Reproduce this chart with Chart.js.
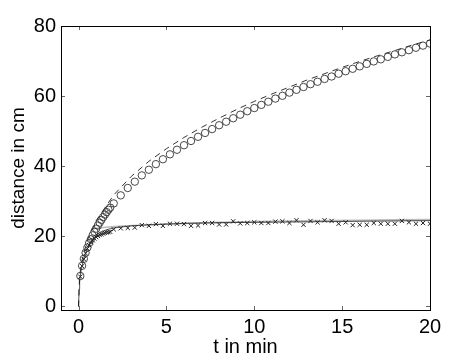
<!DOCTYPE html>
<html>
<head>
<meta charset="utf-8">
<script src="https://cdn.jsdelivr.net/npm/chart.js@4.4.1/dist/chart.umd.min.js"></script>
<style>
html,body{margin:0;padding:0;background:#fff;}
canvas{display:block;}
</style>
</head>
<body>
<canvas id="c" width="474" height="356"></canvas>
<script>
// ---- data ----
const tEarly = [0.1,0.2,0.3,0.4,0.5,0.6,0.7,0.8,0.9,1.0,1.1,1.2,1.3,1.4,1.5,1.6,1.7,1.8];
const tLate = [2.0,2.4,2.8,3.2,3.6,4.0,4.4,4.8,5.2,5.6,6.0,6.4,6.8,7.2,7.6,8.0,8.4,8.8,9.2,9.6,
  10.0,10.4,10.8,11.2,11.6,12.0,12.4,12.8,13.2,13.6,14.0,14.4,14.8,15.2,15.6,16.0,16.4,16.8,17.2,17.6,
  18.0,18.4,18.8,19.2,19.6,20.0];
const circEarly = [8.7,11.6,13.6,15.3,16.8,18.1,19.2,20.3,21.3,22.2,23.1,23.9,24.7,25.5,26.2,26.9,27.6,28.2];
const circLate = [29.4,31.7,33.8,35.6,37.4,39.0,40.6,42.0,43.4,44.7,46.0,47.2,48.4,49.5,50.6,51.7,52.7,53.7,54.7,55.7,
  56.6,57.5,58.4,59.3,60.1,61.0,61.8,62.6,63.4,64.1,64.9,65.6,66.4,67.1,67.8,68.5,69.2,69.9,70.5,71.2,
  71.9,72.5,73.1,73.8,74.4,75.0];
const crossEarly = [8.5,11.5,13.5,15.2,16.5,17.5,18.3,18.9,19.4,19.8,20.1,20.4,20.6,20.8,21.0,21.1,21.2,21.3];
const crossLate = [22.0,22.3,22.4,22.5,23.2,23.0,23.5,23.0,23.6,23.6,23.5,23.0,23.1,23.8,23.8,23.4,23.4,24.3,23.7,23.8,
  24.0,23.8,23.8,24.2,24.3,23.8,24.6,23.3,24.4,24.0,24.6,24.4,23.6,24.0,23.2,23.3,23.3,23.8,23.6,23.6,
  23.6,24.4,24.0,23.6,23.8,23.6];
const tDash = [0,0.05,0.1,0.2,0.5,1,2,3,4,5,6,7,8,9,10,11,12,13,14,15,16,17,18,19,20];
const dashFit = [0,7.7,10.1,13.3,18.9,24.5,31.8,37.1,41.4,45.0,48.2,51.1,53.7,56.2,58.5,60.6,62.6,64.6,66.4,68.2,69.9,71.5,73.0,74.6,76.0];
const tSolid = [0,0.03,0.06,0.1,0.15,0.2,0.3,0.4,0.5,0.6,0.8,1.0,1.3,1.6,2,3,4,6,8,10,12,14,16,18,20];
const solidFit = [0,5,7,8.7,10.3,11.6,13.6,15.2,16.5,17.6,19.2,20.3,21.3,21.9,22.4,23.0,23.3,23.7,23.9,24.0,24.1,24.2,24.3,24.4,24.5];
const tGrey = [0.7,1,2,4,6,8,10,12,14,16,18,20];
const greyFit = [22.0,22.3,22.8,23.3,23.7,24.0,24.2,24.4,24.5,24.6,24.7,24.8];
const xTicks = [0,5,10,15,20];
const yTicks = [0,20,40,60,80];

const pts = (xs, ys) => xs.map((x, i) => ({x: x, y: ys[i]}));

const frameTicks = {
  id: 'frameTicks',
  afterDraw(chart) {
    const {ctx, chartArea: a, scales: {x, y}} = chart;
    ctx.save();
    ctx.strokeStyle = '#666';
    ctx.lineWidth = 1;
    const L = 4;
    x.ticks.forEach(t => {
      const p = Math.round(x.getPixelForValue(t.value)) + 0.5;
      ctx.beginPath();
      ctx.moveTo(p, a.bottom); ctx.lineTo(p, a.bottom - L);
      ctx.moveTo(p, a.top); ctx.lineTo(p, a.top + L);
      ctx.stroke();
    });
    y.ticks.forEach(t => {
      const p = Math.round(y.getPixelForValue(t.value)) + 0.5;
      ctx.beginPath();
      ctx.moveTo(a.left, p); ctx.lineTo(a.left + L, p);
      ctx.moveTo(a.right, p); ctx.lineTo(a.right - L, p);
      ctx.stroke();
    });
    ctx.strokeStyle = '#000';
    ctx.strokeRect(Math.round(a.left) + 0.5, Math.round(a.top) + 0.5,
                   Math.round(a.right - a.left), Math.round(a.bottom - a.top));
    ctx.restore();
  }
};

const font = {family: "'Liberation Sans', Arial, Helvetica, sans-serif", size: 20};

new Chart(document.getElementById('c'), {
  type: 'scatter',
  data: {
    datasets: [
      {data: pts(tGrey, greyFit), showLine: true, borderColor: '#bbbbbb', borderWidth: 1.6, pointRadius: 0, order: 5},
      {data: pts(tSolid, solidFit), showLine: true, borderColor: '#222', borderWidth: 0.8, pointRadius: 0, order: 4},
      {data: pts(tDash, dashFit), showLine: true, borderColor: '#000', borderWidth: 0.8, borderDash: [6, 5], pointRadius: 0, order: 3},
      {data: pts(tEarly.concat(tLate), circEarly.concat(circLate)), pointStyle: 'circle', pointRadius: 3.7,
       borderColor: '#333', backgroundColor: 'rgba(0,0,0,0)', borderWidth: 0.9, order: 2},
      {data: pts(tEarly.concat(tLate), crossEarly.concat(crossLate)), pointStyle: 'crossRot', pointRadius: 3,
       borderColor: '#222', borderWidth: 1, order: 1}
    ]
  },
  options: {
    responsive: false,
    animation: false,
    events: [],
    layout: {padding: {top: 26, right: 44, left: 0, bottom: 0}},
    plugins: {legend: {display: false}, tooltip: {enabled: false}},
    scales: {
      x: {
        type: 'linear', min: -1, max: 20,
        afterBuildTicks: s => { s.ticks = xTicks.map(v => ({value: v})); },
        afterFit: s => { s.height = 46; },
        grid: {display: false, drawTicks: false},
        border: {display: false},
        ticks: {color: '#000', font: font, padding: 5, maxRotation: 0},
        title: {display: true, text: 't in min', color: '#000', font: font, padding: {top: 0, bottom: -3}}
      },
      y: {
        type: 'linear', min: -1, max: 80,
        afterBuildTicks: s => { s.ticks = yTicks.map(v => ({value: v})); },
        afterFit: s => { s.width = 61; },
        grid: {display: false, drawTicks: false},
        border: {display: false},
        ticks: {color: '#000', font: font, padding: 5},
        title: {display: true, text: 'distance in cm', color: '#000', font: {family: font.family, size: 19}, padding: {top: 7, bottom: 4}}
      }
    }
  },
  plugins: [frameTicks]
});
</script>
</body>
</html>
